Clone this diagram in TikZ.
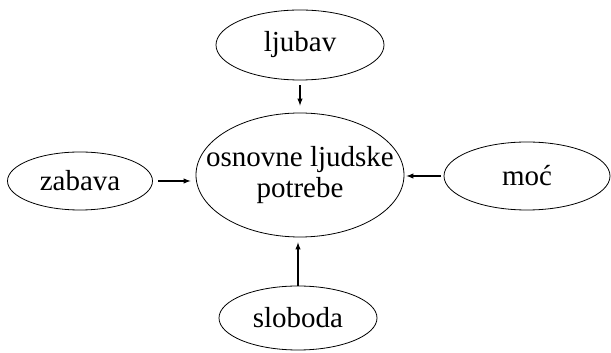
\documentclass[tikz,border=0pt]{standalone}
\usepackage{fontspec}
\setmainfont{Liberation Serif}
\usepackage{tikz}
\usetikzlibrary{shapes.geometric}

\begin{document}
\begin{tikzpicture}[x=1pt,y=1pt,
        need/.style={draw, ellipse, line width=0.8pt, inner sep=-40pt, font=\fontsize{29}{31}\selectfont, align=center},
        pull/.style={-latex, line width=1.4pt}]
        \useasboundingbox (0,0) rectangle (611,353);
        \node[need, minimum width=208, minimum height=124] (potrebe) at (300,178) {osnovne ljudske\\potrebe};
        \node[need, minimum width=168, minimum height=70] (ljubav) at (300,308) {ljubav};
        \node[need, minimum width=145, minimum height=58] (zabava) at (80,172) {zabava};
        \node[need, minimum width=166, minimum height=68] (moc) at (527,177) {moć};
        \node[need, minimum width=158, minimum height=64] (sloboda) at (298,35) {sloboda};
        \draw[pull, shorten <=5pt, shorten >=7pt](ljubav.south) -- (potrebe.north);
        \draw[pull, shorten <=5pt, shorten >=5pt](zabava.east) -- (zabava.east -| potrebe.west);
        \draw[pull, shorten <=3pt, shorten >=2pt](moc.west) -- (moc.west -| potrebe.east);
        \draw[pull, shorten >=5pt](sloboda.north) -- (sloboda.north |- potrebe.south);
    \end{tikzpicture}
\end{document}
